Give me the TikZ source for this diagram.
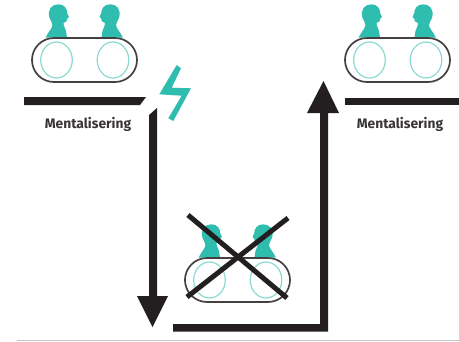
\documentclass[tikz,border=0pt]{standalone}
\usepackage{fontspec}
\setsansfont{Fira Sans}
\definecolor{teal1}{HTML}{2FBDAF}
\definecolor{teal2}{HTML}{8ADAD2}
\definecolor{ink}{HTML}{231F20}
\newcommand{\personshape}{\fill[head] (45.7,37.5) .. controls (48,32) and (52,29) .. (52.5,25)
      .. controls (52.5,22.5) and (50.5,21) .. (49.5,18)
      .. controls (47,9) and (52,4.3) .. (58.5,4.3)
      .. controls (64.5,4.3) and (67.3,9) .. (67.3,13.5)
      -- (69,17) -- (67.3,18.5)
      .. controls (67.3,22) and (65,22) .. (63.5,23)
      .. controls (63.5,27) and (65.5,28) .. (66,31) -- (67,37.5) -- cycle;}
\tikzset{
  x=1pt,y=-1pt,
  capsule/.style={draw=ink!85,line width=1.7pt,fill=white,rounded corners=22pt},
  ring/.style={draw=teal2,line width=1.2pt},
  head/.style={fill=teal1,draw=none},
  label/.style={font=\sffamily\bfseries\fontsize{13.8}{16}\selectfont,text=ink!90,inner sep=0pt},
  bar/.style={fill=ink,draw=none},
  cross/.style={draw=ink,line width=5pt},
  couple/.pic={
    \personshape
    \begin{scope}[shift={(168.5,0)},xscale=-1]\personshape\end{scope}
    \draw[capsule] (32,38) rectangle (137,82);
    \draw[ring] (56.5,60) ellipse [x radius=15.8pt,y radius=18pt];
    \draw[ring] (113,60) ellipse [x radius=15.8pt,y radius=18pt];
  }
}
\begin{document}
\begin{tikzpicture}
\useasboundingbox (0,0) rectangle (459,341);
\fill[white] (0,0) rectangle (459,341);
\draw[gray!45,line width=1pt] (17,340) -- (459,340);
\pic at (0,0) {couple};
\pic at (313,0) {couple};
\pic at (153,220) {couple};
% bars
\fill[bar] (24,97) -- (146,97) -- (140,105) -- (24,105) -- cycle;
\fill[bar] (345,98) rectangle (459,105);
\fill[bar] (149,115) -- (157,108) -- (157,296) -- (168,296) -- (152.5,327) -- (137,296) -- (149,296) -- cycle;
\fill[bar] (173,324) -- (320,324) -- (320,113) -- (307,113) -- (323.5,81) -- (339,113) -- (328,113) -- (328,331.5) -- (173,331.5) -- cycle;
% bolt
\fill[teal1] (176.7,65) -- (181,68.3) -- (171.7,87.7) -- (191,88.3) -- (173.3,121) -- (168.3,118.3) -- (181.7,95.7) -- (159.3,94.3) -- cycle;
% cross
\coordinate (x1) at (188,215); \coordinate (x2) at (287,298);
\coordinate (x3) at (288,218); \coordinate (x4) at (187,297);
\draw[cross] (x1) -- (x2);
\draw[cross] (x3) -- (x4);
\node[label] (m1) at (88,124) {Mentalisering};
\node[label] (m2) at (400,124) {Mentalisering};
\end{tikzpicture}
\end{document}
